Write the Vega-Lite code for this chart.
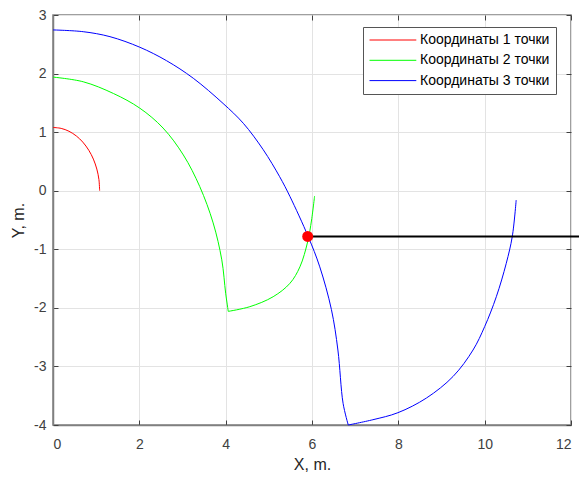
{
  "$schema": "https://vega.github.io/schema/vega-lite/v6.json",
  "width": 518,
  "height": 410,
  "autosize": {"type": "none"},
  "padding": {"left": 53, "top": 15, "right": 8, "bottom": 52},
  "background": "white",
  "config": {
    "font": "Liberation Sans",
    "view": {"stroke": "#808080", "strokeWidth": 1.5},
    "axis": {
      "domainColor": "#808080",
      "domainWidth": 1.5,
      "tickColor": "#404040",
      "tickSize": -5,
      "gridColor": "#e3e3e3",
      "gridWidth": 1,
      "labelColor": "#404040",
      "labelFontSize": 14,
      "titleColor": "#262626",
      "titleFontSize": 16,
      "titleFontWeight": "normal",
      "labelExpr": "'' + datum.value"
    },
    "legend": {
      "labelFontSize": 14,
      "labelColor": "#000000",
      "strokeColor": "#555555",
      "fillColor": "white",
      "padding": 6,
      "cornerRadius": 0
    }
  },
  "datasets": {
    "curves": [
      {"series": "Координаты 1 точки", "part": 1, "i": 0, "x": 0, "y": 1.08},
      {"series": "Координаты 1 точки", "part": 1, "i": 1, "x": 0.19, "y": 1.064},
      {"series": "Координаты 1 точки", "part": 1, "i": 2, "x": 0.37, "y": 1.015},
      {"series": "Координаты 1 точки", "part": 1, "i": 3, "x": 0.54, "y": 0.935},
      {"series": "Координаты 1 точки", "part": 1, "i": 4, "x": 0.69, "y": 0.83},
      {"series": "Координаты 1 точки", "part": 1, "i": 5, "x": 0.83, "y": 0.69},
      {"series": "Координаты 1 точки", "part": 1, "i": 6, "x": 0.935, "y": 0.54},
      {"series": "Координаты 1 точки", "part": 1, "i": 7, "x": 1.015, "y": 0.37},
      {"series": "Координаты 1 точки", "part": 1, "i": 8, "x": 1.064, "y": 0.19},
      {"series": "Координаты 1 точки", "part": 1, "i": 9, "x": 1.08, "y": 0},
      {"series": "Координаты 2 точки", "part": 1, "i": 0, "x": 0, "y": 1.94},
      {"series": "Координаты 2 точки", "part": 1, "i": 1, "x": 0.7, "y": 1.86},
      {"series": "Координаты 2 точки", "part": 1, "i": 2, "x": 1.4, "y": 1.66},
      {"series": "Координаты 2 точки", "part": 1, "i": 3, "x": 2.01, "y": 1.41},
      {"series": "Координаты 2 точки", "part": 1, "i": 4, "x": 2.55, "y": 1.07},
      {"series": "Координаты 2 точки", "part": 1, "i": 5, "x": 3.02, "y": 0.61},
      {"series": "Координаты 2 точки", "part": 1, "i": 6, "x": 3.4, "y": 0.07},
      {"series": "Координаты 2 точки", "part": 1, "i": 7, "x": 3.71, "y": -0.55},
      {"series": "Координаты 2 точки", "part": 1, "i": 8, "x": 3.91, "y": -1.18},
      {"series": "Координаты 2 точки", "part": 1, "i": 9, "x": 4.0, "y": -1.75},
      {"series": "Координаты 2 точки", "part": 1, "i": 10, "x": 4.06, "y": -2.06},
      {"series": "Координаты 2 точки", "part": 2, "i": 10, "x": 4.06, "y": -2.06},
      {"series": "Координаты 2 точки", "part": 2, "i": 11, "x": 4.56, "y": -1.98},
      {"series": "Координаты 2 точки", "part": 2, "i": 12, "x": 5.1, "y": -1.81},
      {"series": "Координаты 2 точки", "part": 2, "i": 13, "x": 5.49, "y": -1.58},
      {"series": "Координаты 2 точки", "part": 2, "i": 14, "x": 5.72, "y": -1.3},
      {"series": "Координаты 2 точки", "part": 2, "i": 15, "x": 5.9, "y": -0.87},
      {"series": "Координаты 2 точки", "part": 2, "i": 16, "x": 5.99, "y": -0.5},
      {"series": "Координаты 2 точки", "part": 2, "i": 17, "x": 6.06, "y": -0.09},
      {"series": "Координаты 3 точки", "part": 1, "i": 0, "x": 0, "y": 2.745},
      {"series": "Координаты 3 точки", "part": 1, "i": 1, "x": 0.7, "y": 2.715},
      {"series": "Координаты 3 точки", "part": 1, "i": 2, "x": 1.32, "y": 2.63},
      {"series": "Координаты 3 точки", "part": 1, "i": 3, "x": 2.01, "y": 2.45},
      {"series": "Координаты 3 точки", "part": 1, "i": 4, "x": 2.63, "y": 2.22},
      {"series": "Координаты 3 точки", "part": 1, "i": 5, "x": 3.25, "y": 1.92},
      {"series": "Координаты 3 точки", "part": 1, "i": 6, "x": 3.94, "y": 1.49},
      {"series": "Координаты 3 точки", "part": 1, "i": 7, "x": 4.41, "y": 1.15},
      {"series": "Координаты 3 точки", "part": 1, "i": 8, "x": 4.87, "y": 0.7},
      {"series": "Координаты 3 точки", "part": 1, "i": 9, "x": 5.25, "y": 0.24},
      {"series": "Координаты 3 точки", "part": 1, "i": 10, "x": 5.49, "y": -0.1},
      {"series": "Координаты 3 точки", "part": 1, "i": 11, "x": 5.91, "y": -0.78},
      {"series": "Координаты 3 точки", "part": 1, "i": 12, "x": 6.18, "y": -1.3},
      {"series": "Координаты 3 точки", "part": 1, "i": 13, "x": 6.45, "y": -2.03},
      {"series": "Координаты 3 точки", "part": 1, "i": 14, "x": 6.6, "y": -2.72},
      {"series": "Координаты 3 точки", "part": 1, "i": 15, "x": 6.72, "y": -3.63},
      {"series": "Координаты 3 точки", "part": 1, "i": 16, "x": 6.84, "y": -4.0},
      {"series": "Координаты 3 точки", "part": 2, "i": 16, "x": 6.84, "y": -4.0},
      {"series": "Координаты 3 точки", "part": 2, "i": 17, "x": 7.41, "y": -3.91},
      {"series": "Координаты 3 точки", "part": 2, "i": 18, "x": 7.99, "y": -3.79},
      {"series": "Координаты 3 точки", "part": 2, "i": 19, "x": 8.65, "y": -3.54},
      {"series": "Координаты 3 точки", "part": 2, "i": 20, "x": 9.27, "y": -3.17},
      {"series": "Координаты 3 точки", "part": 2, "i": 21, "x": 9.73, "y": -2.72},
      {"series": "Координаты 3 точки", "part": 2, "i": 22, "x": 10.0, "y": -2.32},
      {"series": "Координаты 3 точки", "part": 2, "i": 23, "x": 10.27, "y": -1.81},
      {"series": "Координаты 3 точки", "part": 2, "i": 24, "x": 10.5, "y": -1.24},
      {"series": "Координаты 3 точки", "part": 2, "i": 25, "x": 10.64, "y": -0.78},
      {"series": "Координаты 3 точки", "part": 2, "i": 26, "x": 10.73, "y": -0.16}
    ],
    "ray": [
      {"x": 5.9, "y": -0.78},
      {"x": 14, "y": -0.78}
    ],
    "dot": [
      {"x": 5.9, "y": -0.78}
    ]
  },
  "layer": [
    {
      "data": {"name": "curves"},
      "mark": {"type": "line", "strokeWidth": 1, "interpolate": "catmull-rom"},
      "encoding": {
        "x": {"field": "x", "type": "quantitative", "scale": {"domain": [0, 12], "nice": false, "zero": false},
              "axis": {"title": "X, m.", "values": [0, 2, 4, 6, 8, 10, 12], "labelPadding": 17, "titlePadding": 5}},
        "y": {"field": "y", "type": "quantitative", "scale": {"domain": [-4, 3], "nice": false, "zero": false},
              "axis": {"title": "Y, m.", "values": [-4, -3, -2, -1, 0, 1, 2, 3], "labelPadding": 12, "titlePadding": 7}},
        "order": {"field": "i", "type": "quantitative"},
        "detail": {"field": "part", "type": "nominal"},
        "color": {"field": "series", "type": "nominal",
                  "scale": {"domain": ["Координаты 1 точки", "Координаты 2 точки", "Координаты 3 точки"], "range": ["#ff0000", "#00ff00", "#0000ff"]},
                  "legend": {"title": null, "orient": "none", "legendX": 310, "legendY": 12,
                             "symbolType": "M-1,0H6.2", "symbolSize": 169, "symbolStrokeWidth": 1,
                             "labelOffset": 37, "rowPadding": 6.3}}
      }
    },
    {
      "data": {"name": "ray"},
      "mark": {"type": "line", "color": "black", "strokeWidth": 2, "clip": false},
      "encoding": {
        "x": {"field": "x", "type": "quantitative",
              "axis": {"orient": "top", "labels": false, "grid": false, "title": null, "domain": false, "values": [0, 2, 4, 6, 8, 10, 12]}},
        "y": {"field": "y", "type": "quantitative",
              "axis": {"orient": "right", "labels": false, "grid": false, "title": null, "domain": false, "values": [-4, -3, -2, -1, 0, 1, 2, 3]}}
      }
    },
    {
      "data": {"name": "dot"},
      "mark": {"type": "circle", "color": "#ff0000", "opacity": 1, "size": 120},
      "encoding": {
        "x": {"field": "x", "type": "quantitative", "axis": null},
        "y": {"field": "y", "type": "quantitative", "axis": null}
      }
    }
  ],
  "resolve": {"axis": {"x": "independent", "y": "independent"}}
}
